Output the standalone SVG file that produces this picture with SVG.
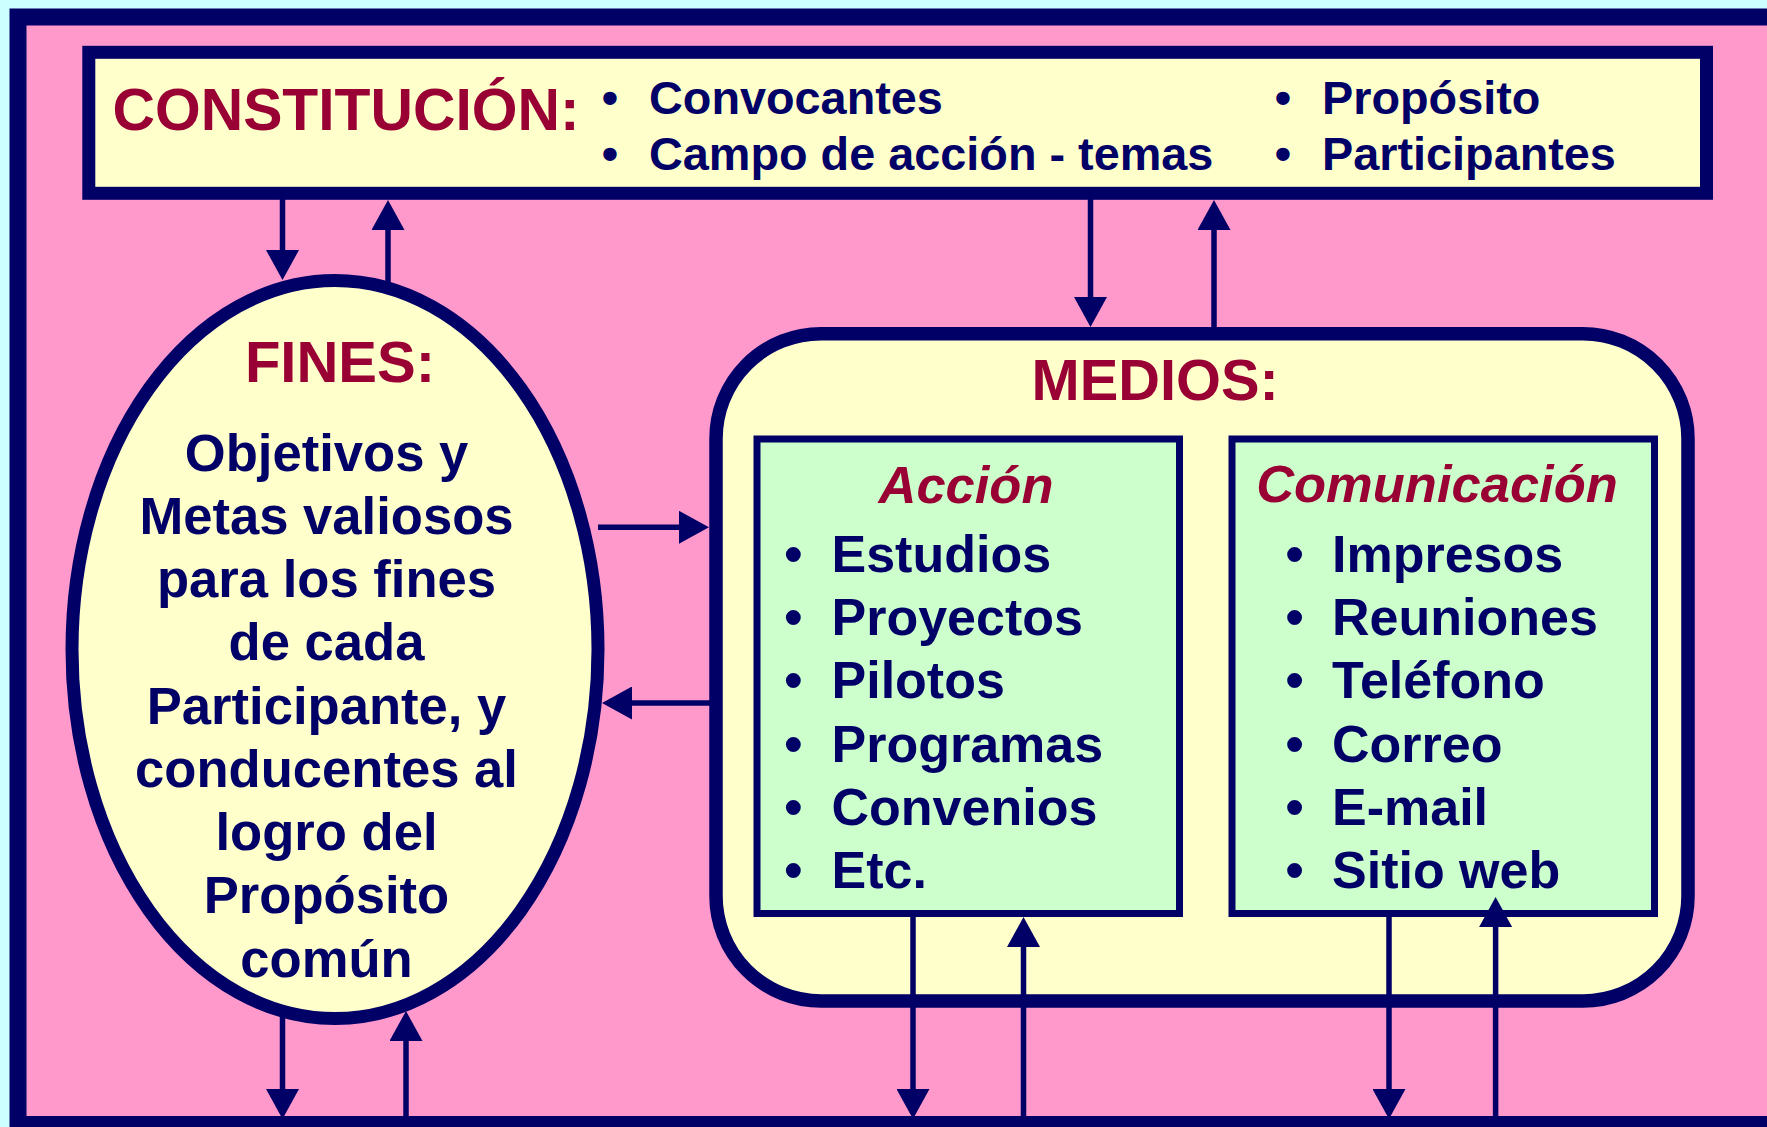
<svg xmlns="http://www.w3.org/2000/svg" width="1767" height="1127" viewBox="0 0 1767 1127">
<defs>
<style>
.t{font-family:"Liberation Sans",Arial,sans-serif;font-weight:bold}
.red{fill:#990033}
.nv{fill:#000066}
.it{font-style:italic}
.c{text-anchor:middle}
.conn line{stroke:#000066;stroke-width:5.5;marker-end:url(#ah)}
</style>
<marker id="ah" viewBox="0 0 30 33" refX="0" refY="16.5" markerWidth="30" markerHeight="33" markerUnits="userSpaceOnUse" orient="auto">
<path d="M0,0 L30,16.5 L0,33 Z" fill="#000066"/>
</marker>
</defs>
<rect x="0" y="0" width="1767" height="1127" fill="#CCFFFF"/>
<rect id="frame" x="18" y="17" width="1800" height="1107.5" fill="#FF99CC" stroke="#000066" stroke-width="17"/>

<g id="constitucion">
<rect x="88.8" y="52.3" width="1617.7" height="141" fill="#FFFFCC" stroke="#000066" stroke-width="13"/>
<text class="t red" x="112.5" y="130" font-size="58.8">CONSTITUCIÓN:</text>
<g class="t nv" font-size="46.8">
<text x="610" y="114" class="c">•</text><text x="649" y="114">Convocantes</text>
<text x="610" y="169.5" class="c">•</text><text x="649" y="169.5">Campo de acción - temas</text>
<text x="1283" y="114" class="c">•</text><text x="1322" y="114">Propósito</text>
<text x="1283" y="169.5" class="c">•</text><text x="1322" y="169.5">Participantes</text>
</g>
</g>

<g id="fines">
<ellipse cx="335" cy="649.5" rx="263" ry="369" fill="#FFFFCC" stroke="#000066" stroke-width="13"/>
<text class="t red c" x="340" y="381.7" font-size="58">FINES:</text>
<g class="t nv c" font-size="52.6">
<text x="326.5" y="470.5">Objetivos y</text>
<text x="326.5" y="533.7">Metas valiosos</text>
<text x="326.5" y="597">para los fines</text>
<text x="326.5" y="660.2">de cada</text>
<text x="326.5" y="723.5">Participante, y</text>
<text x="326.5" y="786.7">conducentes al</text>
<text x="326.5" y="850">logro del</text>
<text x="326.5" y="913.2">Propósito</text>
<text x="326.5" y="976.5">común</text>
</g>
</g>

<g id="medios">
<rect x="716" y="333.7" width="972" height="667.3" rx="105" ry="105" fill="#FFFFCC" stroke="#000066" stroke-width="13.5"/>
<text class="t red" x="1031.5" y="400" font-size="57.8">MEDIOS:</text>
</g>

<g id="accion">
<rect x="757" y="439" width="422.5" height="474.5" fill="#CCFFCC" stroke="#000066" stroke-width="7"/>
<text class="t red it c" x="966" y="503" font-size="52.5">Acción</text>
<g class="t nv" font-size="52">
<text x="793.4" y="571.7" class="c">•</text><text x="831.5" y="571.7">Estudios</text>
<text x="793.4" y="635" class="c">•</text><text x="831.5" y="635">Proyectos</text>
<text x="793.4" y="698.3" class="c">•</text><text x="831.5" y="698.3">Pilotos</text>
<text x="793.4" y="761.6" class="c">•</text><text x="831.5" y="761.6">Programas</text>
<text x="793.4" y="824.9" class="c">•</text><text x="831.5" y="824.9">Convenios</text>
<text x="793.4" y="888.2" class="c">•</text><text x="831.5" y="888.2">Etc.</text>
</g>
</g>

<g id="comunicacion">
<rect x="1232" y="439" width="422.5" height="474.5" fill="#CCFFCC" stroke="#000066" stroke-width="7"/>
<text class="t red it c" x="1437" y="501.7" font-size="52.5">Comunicación</text>
<g class="t nv" font-size="52">
<text x="1294.5" y="571.7" class="c">•</text><text x="1332" y="571.7">Impresos</text>
<text x="1294.5" y="635" class="c">•</text><text x="1332" y="635">Reuniones</text>
<text x="1294.5" y="698.3" class="c">•</text><text x="1332" y="698.3">Teléfono</text>
<text x="1294.5" y="761.6" class="c">•</text><text x="1332" y="761.6">Correo</text>
<text x="1294.5" y="824.9" class="c">•</text><text x="1332" y="824.9">E-mail</text>
<text x="1294.5" y="888.2" class="c">•</text><text x="1332" y="888.2">Sitio web</text>
</g>
</g>

<g id="connectors" class="conn">
<line x1="282.5" y1="199" x2="282.5" y2="250"/>
<line x1="388" y1="282" x2="388" y2="230"/>
<line x1="1090.5" y1="199" x2="1090.5" y2="297"/>
<line x1="1214" y1="328" x2="1214" y2="230"/>
<line x1="598" y1="527.3" x2="679" y2="527.3"/>
<line x1="710" y1="703" x2="632" y2="703"/>
<line x1="282.5" y1="1017" x2="282.5" y2="1089"/>
<line x1="406" y1="1118" x2="406" y2="1041"/>
<line x1="913" y1="916" x2="913" y2="1089"/>
<line x1="1023.5" y1="1118" x2="1023.5" y2="947"/>
<line x1="1389" y1="916" x2="1389" y2="1089"/>
<line x1="1495.6" y1="1118" x2="1495.6" y2="927"/>
</g>
</svg>
